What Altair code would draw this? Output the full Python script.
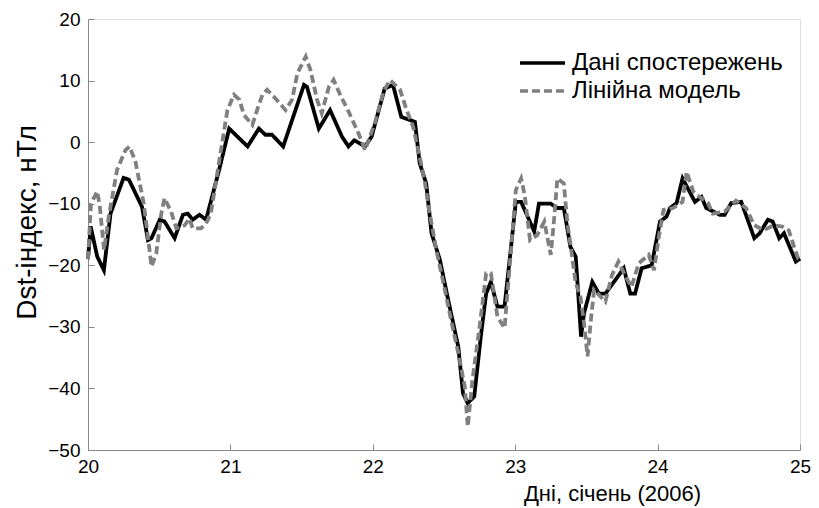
import altair as alt
import pandas as pd

series_names = ["Дані спостережень", "Лінійна модель"]

# hours after 20 Jan 00:00 and Dst values (nT)
obs_hours = [0, 0.45, 1.56, 2.68, 3.8, 6.0, 6.9, 9.1, 10.1, 10.7, 12.1, 12.9, 14.6, 16.0,
             16.8, 17.65, 18.8, 19.9, 22.1, 23.8, 26.9, 28.8, 29.9, 31.0, 32.9, 36.4,
             36.9, 38.9, 40.8, 42.8, 43.9, 44.9, 46.7, 47.8, 50.0, 51.4, 52.8, 55.1,
             55.9, 57.0, 57.9, 59.3, 60.7, 62.4, 63.2, 64.0, 65.1, 66.2, 67.1, 67.9,
             69.0, 70.2, 71.3, 72.1, 73.0, 75.2, 76.0, 78.0, 79.1, 80.2, 81.3, 82.2,
             83.1, 83.6, 85.0, 86.1, 87.2, 90.3, 91.4, 92.2, 93.3, 95.0, 96.4, 97.5,
             98.1, 99.2, 100.2, 102.3, 103.4, 104.2, 106.5, 107.3, 108.4, 110.1, 112.3,
             113.2, 114.6, 115.4, 116.5, 117.3, 119.3, 120.0]
obs_values = [-19, -13.7, -18.6, -20.8, -11.6, -5.8, -6.1, -10.5, -15.9, -15.6, -12.6, -12.9,
              -15.6, -11.8, -11.6, -12.6, -11.8, -12.6, -4.5, 2.2, -0.7, 2.2, 1.2, 1.2,
              -0.7, 9.3, 9.0, 2.2, 5.2, 0.9, -0.7, 0.3, -0.7, 0.9, 8.7, 9.3, 4.1, 3.3,
              -3.4, -6.7, -14.8, -19.1, -25.6, -33.2, -40.8, -42.4, -41.3, -31.6, -24.6,
              -22.7, -26.7, -26.7, -17.0, -9.7, -9.7, -14.5, -10.0, -10.0, -10.7, -10.7,
              -17.0, -18.6, -31.6, -27.8, -22.7, -24.6, -24.6, -20.5, -24.6, -24.6, -20.5,
              -20.0, -12.9, -12.1, -10.7, -9.9, -5.9, -9.7, -8.9, -10.7, -11.8, -11.8,
              -9.9, -9.7, -15.6, -14.8, -12.6, -12.9, -15.6, -14.8, -19.4, -18.9]

mod_hours = [0, 0.5, 1.56, 2.0, 2.7, 3.5, 4.9, 6.3, 7.0, 8.0, 9.4, 10.1, 10.7, 11.5, 12.35,
             12.9, 14.0, 14.9, 16.3, 17.1, 17.65, 19.05, 19.9, 20.7, 21.8, 23.5, 24.6,
             25.5, 26.3, 27.7, 28.5, 29.4, 30.2, 31.6, 33.3, 34.4, 35.3, 36.7, 37.5,
             38.6, 39.4, 40.6, 41.4, 42.5, 43.9, 45.6, 46.7, 48.4, 49.8, 50.9, 52.6,
             53.7, 54.8, 55.9, 56.8, 57.6, 58.7, 59.8, 61.2, 62.3, 63.5, 64.0, 64.8,
             66.0, 67.1, 67.9, 69.0, 70.2, 71.3, 72.1, 73.0, 73.6, 74.5, 75.7, 76.9,
             78.0, 78.6, 79.1, 80.2, 80.8, 81.6, 82.2, 83.0, 83.6, 84.2, 84.7, 85.3,
             87.2, 88.3, 89.4, 90.5, 91.6, 92.8, 94.5, 95.4, 96.2, 97.0, 98.6, 100.2,
             100.9, 102.0, 103.1, 104.5, 105.3, 107.3, 109.2, 110.9, 112.3, 113.9, 115.6,
             117.0, 118.1, 119.0, 119.7, 120.0]
mod_values = [-19, -10, -8.0, -10.5, -17.5, -12.1, -4.5, -1.3, -0.7, -3.2, -10.0, -15.4,
              -20.2, -18.1, -11.6, -9.1, -11.3, -14.0, -13.5, -12.4, -14.0, -14.0, -13.2,
              -11.6, -5.0, 5.2, 7.7, 6.9, 4.4, 2.8, 5.2, 7.7, 8.5, 7.1, 5.2, 6.9, 11.2,
              13.9, 11.7, 6.9, 4.7, 9.0, 10.1, 7.7, 5.0, 1.4, -1.3, 3.3, 8.2, 10.1, 8.5,
              5.2, 2.5, -2.4, -6.7, -11.6, -17.5, -22.4, -28.9, -33.8, -39.7, -46.2,
              -38.6, -30.0, -21.3, -21.3, -28.3, -30.2, -17.5, -7.8, -5.9, -8.6, -15.9,
              -15.1, -12.9, -18.3, -12.1, -5.9, -6.7, -13.2, -18.6, -22.9, -25.1, -29.4,
              -34.8, -29.4, -24.0, -25.9, -21.6, -19.4, -21.6, -23.5, -19.7, -18.3, -20.8,
              -15.4, -11.0, -10.7, -9.7, -4.8, -8.0, -8.9, -9.9, -11.6, -11.3, -9.5,
              -10.7, -13.5, -14.3, -13.5, -13.7, -14.3, -17.0, -18.9, -19.0]

x_ticks = [20, 21, 22, 23, 24, 25]
y_ticks = [-50, -40, -30, -20, -10, 0, 10, 20]

df = pd.concat([
    pd.DataFrame({"day": [20 + h / 24 for h in obs_hours], "dst": obs_values,
                  "series": series_names[0], "idx": range(len(obs_hours))}),
    pd.DataFrame({"day": [20 + h / 24 for h in mod_hours], "dst": mod_values,
                  "series": series_names[1], "idx": range(len(mod_hours))}),
])

FONT = "Liberation Sans"

legend = alt.Legend(title=None, orient="none", legendX=430, legendY=32,
                    symbolType="stroke", symbolSize=2025, symbolStrokeWidth=3.5,
                    labelFontSize=24, labelFont=FONT, labelColor="black",
                    labelOffset=5, rowPadding=4, clipHeight=24, labelLimit=400)

chart = alt.Chart(df).mark_line(strokeWidth=3.8).encode(
    x=alt.X("day:Q", scale=alt.Scale(domain=[20, 25], nice=False, zero=False),
            axis=alt.Axis(values=x_ticks, format="d", title="Дні, січень (2006)",
                          grid=False, tickSize=alt.ExprRef("-6"), labelPadding=13,
                          titleX=524, titleY=33, titleBaseline="top", titleAlign="center",
                          titleFontSize=22, titleFontWeight="normal", labelFontSize=19,
                          labelFlush=False)),
    y=alt.Y("dst:Q", scale=alt.Scale(domain=[-50, 20], nice=False, zero=False),
            axis=alt.Axis(values=y_ticks, title="Dst-індекс, нТл", grid=False,
                          tickSize=alt.ExprRef("-6"), labelPadding=14,
                          titleX=-61, titleY=203, titleAngle=-90, titleBaseline="middle",
                          titleAlign="center", titleFontSize=28, titleFontWeight="normal",
                          labelFontSize=19)),
    color=alt.Color("series:N", scale=alt.Scale(domain=series_names, range=["#000000", "#808080"]),
                    legend=legend),
    strokeDash=alt.StrokeDash("series:N", scale=alt.Scale(domain=series_names, range=[[1, 0], [8, 4]]),
                              legend=legend),
    order="idx:Q",
).properties(
    width=712, height=431,
    autosize=alt.AutoSizeParams(type="none"),
    padding={"left": 80, "top": 11, "right": 11, "bottom": 58},
).configure_view(stroke=None).configure_axis(
    domainColor="black", domainWidth=1.5, tickColor="black", tickWidth=1.5,
    labelColor="black", titleColor="black", labelFont=FONT, titleFont=FONT,
).configure(background="white")

chart.save("out.html", embed_options={"renderer": "svg", "actions": False})
